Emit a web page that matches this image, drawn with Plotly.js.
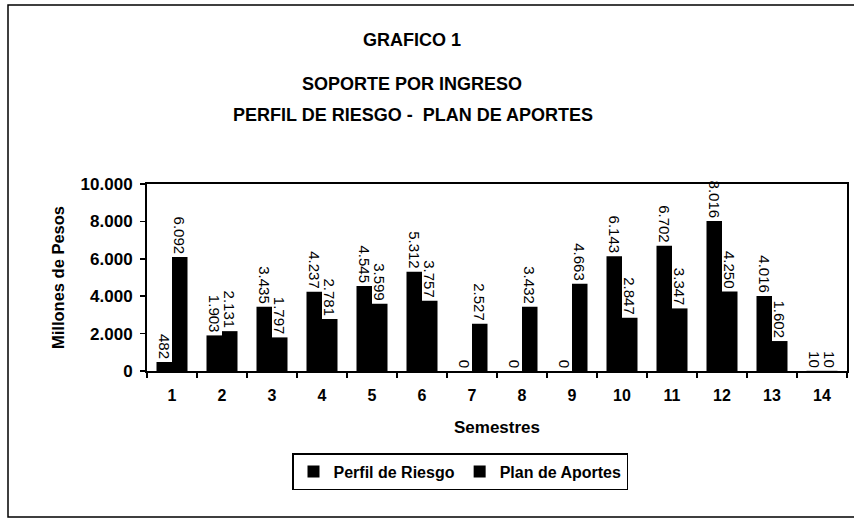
<!DOCTYPE html>
<html>
<head>
<meta charset="utf-8">
<script src="https://cdn.plot.ly/plotly-3.0.1.min.js"></script>
<style>html,body{margin:0;padding:0;background:#fff}#chart{width:854px;height:520px}</style>
</head>
<body>
<div id="chart"></div>
<script>
const semestres = ['1','2','3','4','5','6','7','8','9','10','11','12','13','14'];
const perfilRiesgo = [482, 1903, 3435, 4237, 4545, 5312, 0, 0, 0, 6143, 6702, 8016, 4016, 10];
const planAportes = [6092, 2131, 1797, 2781, 3599, 3757, 2527, 3432, 4663, 2847, 3347, 4250, 1602, 10];
const titleLines = ['GRAFICO 1', 'SOPORTE POR INGRESO', 'PERFIL DE RIESGO -  PLAN DE APORTES'];

const FONT = 'Liberation Sans, Arial, sans-serif';

function barTrace(name, vals) {
  return {
    type: 'bar', name: name, x: semestres, y: vals,
    marker: {color: '#000000', line: {color: '#000000', width: 0}},
    texttemplate: '%{y:,}', textposition: 'outside', textangle: 90,
    textfont: {family: FONT, size: 15, color: '#000'},
    cliponaxis: false, constraintext: 'none', hoverinfo: 'x+y'
  };
}

const data = [barTrace('Perfil de Riesgo', perfilRiesgo), barTrace('Plan de Aportes', planAportes)];

const L = 147, R = 847, T = 184, B = 371;
const px = v => (v - L) / (R - L);
const py = v => (B - v) / (B - T);

const titleFont = {family: FONT, size: 18, color: '#000', weight: 'bold'};

const layout = {
  width: 854, height: 520,
  margin: {l: L, r: 854 - R, t: T, b: 520 - B},
  paper_bgcolor: '#fff', plot_bgcolor: '#fff',
  separators: ',.',
  barmode: 'group', bargap: 0.38, bargroupgap: 0,
  font: {family: FONT, color: '#000'},
  title: {
    text: titleLines[0],
    xref: 'container', x: 412 / 854, xanchor: 'center',
    yref: 'container', y: 1 - 40 / 520, yanchor: 'middle',
    font: titleFont
  },
  annotations: [
    {text: titleLines[1], xref: 'paper', yref: 'paper', x: px(412), y: py(84), xanchor: 'center', yanchor: 'middle', showarrow: false, font: titleFont},
    {text: titleLines[2], xref: 'paper', yref: 'paper', x: px(413), y: py(115), xanchor: 'center', yanchor: 'middle', showarrow: false, font: titleFont}
  ],
  xaxis: {
    type: 'category', tickson: 'boundaries', ticks: 'outside', ticklen: 5, tickwidth: 1.5, tickcolor: '#000',
    showline: true, linecolor: '#000', linewidth: 2, mirror: true, showgrid: false, zeroline: false,
    ticklabelstandoff: 9,
    tickfont: {family: FONT, size: 16, color: '#000', weight: 'bold'},
    title: {text: 'Semestres', standoff: 18, font: {family: FONT, size: 17, color: '#000', weight: 'bold'}}
  },
  yaxis: {
    range: [0, 10000], dtick: 2000, tickformat: ',', ticks: 'outside', ticklen: 5, tickwidth: 1.5, tickcolor: '#000',
    showline: true, linecolor: '#000', linewidth: 2, mirror: true, showgrid: false, zeroline: false,
    ticklabelstandoff: 4,
    tickfont: {family: FONT, size: 17, color: '#000', weight: 'bold'},
    title: {text: 'Millones de Pesos', standoff: 12, font: {family: FONT, size: 16.5, color: '#000', weight: 'bold'}}
  },
  showlegend: true,
  legend: {
    orientation: 'h', x: px(460), xanchor: 'center', y: py(453), yanchor: 'top',
    bordercolor: '#000', borderwidth: 1.5, bgcolor: '#fff',
    font: {family: FONT, size: 16, color: '#000', weight: 'bold'},
    itemwidth: 30, tracegroupgap: 0
  },
  shapes: [{
    type: 'rect', xref: 'paper', yref: 'paper',
    x0: px(8), x1: px(860), y0: py(517), y1: py(5),
    line: {color: '#000', width: 1.5}, fillcolor: 'rgba(0,0,0,0)', layer: 'below'
  }]
};

Plotly.newPlot('chart', data, layout, {displayModeBar: false, staticPlot: true});
</script>
</body>
</html>
